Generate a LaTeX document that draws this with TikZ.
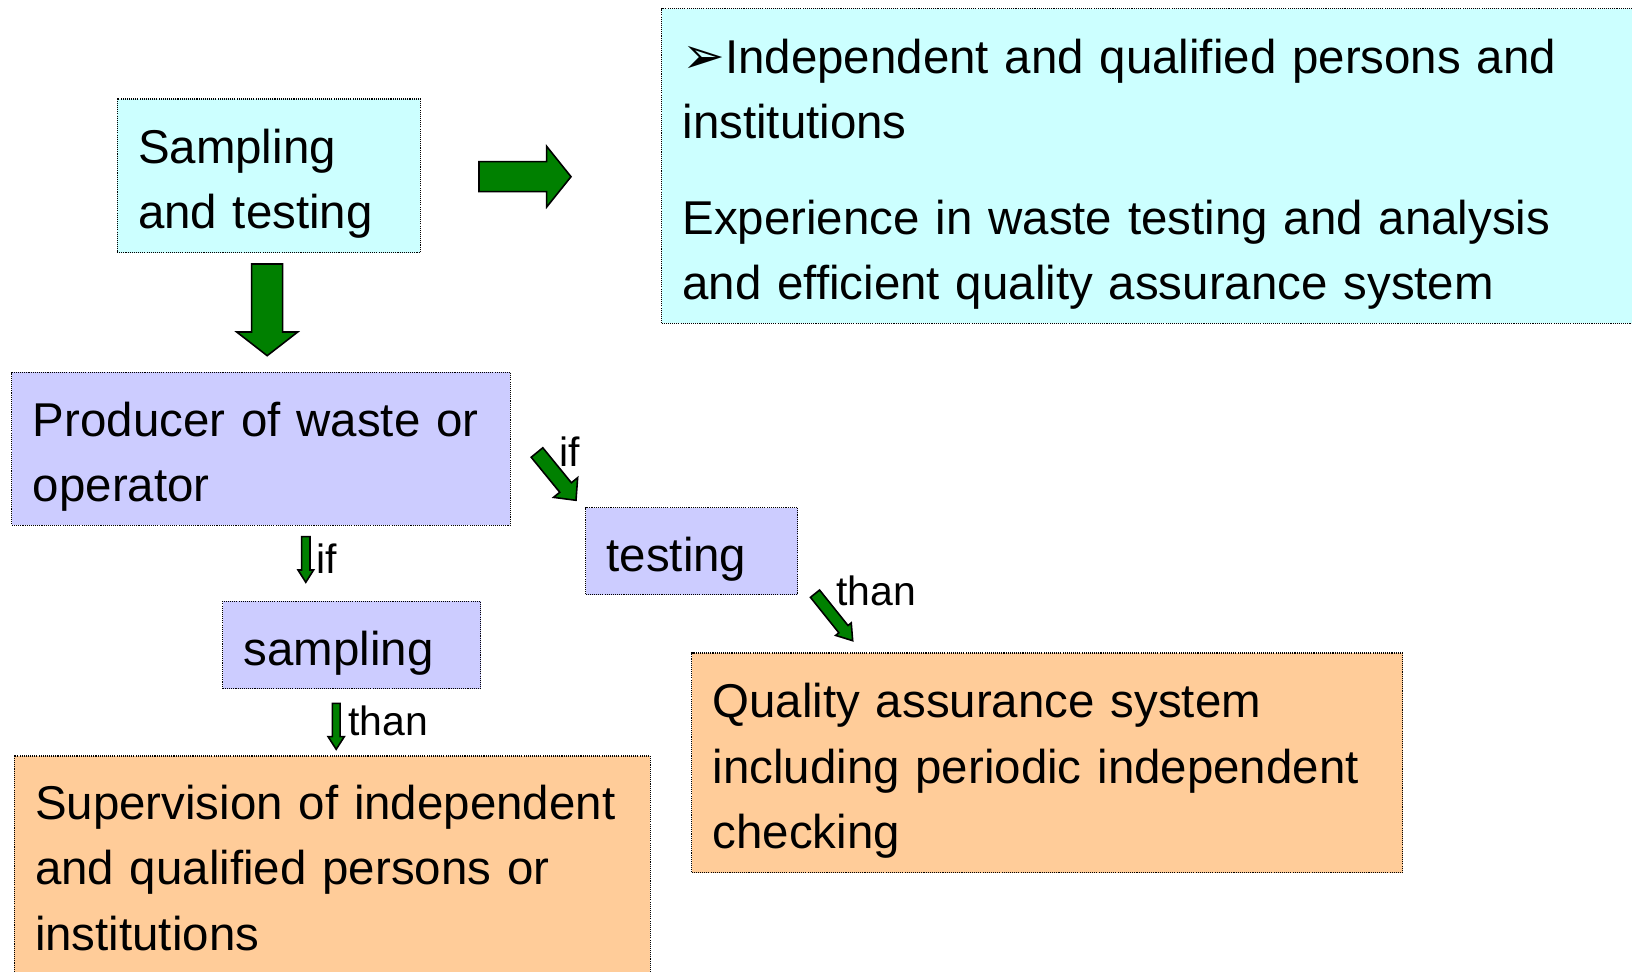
\documentclass[tikz,border=0pt]{standalone}
\usepackage{fontspec}
\setmainfont{Liberation Sans}
\newfontfamily\dingfont{DejaVu Sans}
\usepackage{xcolor}
\usepackage{tikz}
\usetikzlibrary{calc}
\definecolor{palecyan}{HTML}{CCFFFF}
\definecolor{lavender}{HTML}{CCCCFF}
\definecolor{peach}{HTML}{FFCC99}
\definecolor{leaf}{HTML}{008000}
\tikzset{
  box/.style={rectangle, draw=black, line width=0.6pt, dash pattern=on 0.6pt off 0.6pt,
    anchor=north west, align=left, inner xsep=0.42cm, inner ysep=0pt,
    execute at begin node={\leavevmode\rule{0pt}{29.2pt}},
    execute at end node={\rule[-6pt]{0pt}{6pt}},
    font=\fontsize{27}{37.3}\selectfont},
  cbox/.style={box, fill=palecyan},
  lbox/.style={box, fill=lavender},
  obox/.style={box, fill=peach},
  garrow/.style={draw=black, fill=leaf, line width=0.9pt, line join=miter},
  lab/.style={anchor=base west, inner sep=0pt, font=\fontsize{23.3}{28}\selectfont},
}
% from, to, shaft half width, head half width, head length
\newcommand{\blockarrow}[5]{%
  \coordinate (hb) at ($(#2)!#5!(#1)$);
  \draw[garrow] ($(#1)!#3!90:(#2)$) -- ($(hb)!#3!90:(#2)$) -- ($(hb)!#4!90:(#2)$)
    -- (#2) -- ($(hb)!#4!-90:(#2)$) -- ($(hb)!#3!-90:(#2)$) -- ($(#1)!#3!-90:(#2)$) -- cycle;
}

\begin{document}
\begin{tikzpicture}
  \useasboundingbox (0,0) rectangle (32.64,-19.44);

  \node[cbox, minimum width=6.06cm, text width=5.22cm, minimum height=3.07cm] (sample) at (2.33,-1.97) {Sampling\\and testing};
  \node[cbox, minimum width=19.7cm, text width=18.86cm, minimum height=6.29cm] (qualif) at (13.22,-0.166)
    {{\dingfont\fontsize{29}{37.3}\selectfont ➢}Independent and qualified persons and\\institutions\\[0.6cm]
     Experience in waste testing and analysis\\and efficient quality assurance system};
  \node[lbox, minimum width=9.97cm, text width=9.13cm, minimum height=3.06cm] (producer) at (0.228,-7.432) {Producer of waste or\\operator};
  \node[lbox, minimum width=4.24cm, text width=3.4cm, minimum height=1.74cm] (testing) at (11.7,-10.14) {testing};
  \node[lbox, minimum width=5.154cm, text width=4.314cm, minimum height=1.752cm] (sampling) at (4.446,-12.014) {sampling};
  \node[obox, minimum width=12.72cm, text width=11.88cm, minimum height=4.34cm] (superv) at (0.27,-15.11)
    {Supervision of independent\\and qualified persons or\\institutions};
  \node[obox, minimum width=14.22cm, text width=13.38cm, minimum height=4.39cm] (quality) at (13.82,-13.05)
    {Quality assurance system\\including periodic independent\\checking};

  \coordinate (rA) at (9.58,-3.534);   \coordinate (rB) at (11.42,-3.534);
  \coordinate (dA) at (5.344,-5.28);   \coordinate (dB) at (5.344,-7.114);
  \coordinate (tA) at (10.74,-9.05);   \coordinate (tB) at (11.52,-10.006);
  \coordinate (qA) at (16.3,-11.874);  \coordinate (qB) at (17.054,-12.814);
  \coordinate (sA) at (6.116,-10.734); \coordinate (sB) at (6.116,-11.646);
  \coordinate (vA) at (6.724,-14.066); \coordinate (vB) at (6.724,-14.986);

  \blockarrow{rA}{rB}{0.3cm}{0.606cm}{0.486cm}
  \blockarrow{dA}{dB}{0.31cm}{0.61cm}{0.474cm}
  \blockarrow{tA}{tB}{0.15cm}{0.312cm}{0.33cm}
  \blockarrow{qA}{qB}{0.117cm}{0.2cm}{0.296cm}
  \blockarrow{sA}{sB}{0.084cm}{0.156cm}{0.246cm}
  \blockarrow{vA}{vB}{0.078cm}{0.162cm}{0.252cm}

  \node[lab] (ifT) at (11.18,-9.334) {if};
  \node[lab] (thanQ) at (16.72,-12.12) {than};
  \node[lab] (ifS) at (6.32,-11.466) {if};
  \node[lab] (thanV) at (6.955,-14.72) {than};
\end{tikzpicture}
\end{document}
